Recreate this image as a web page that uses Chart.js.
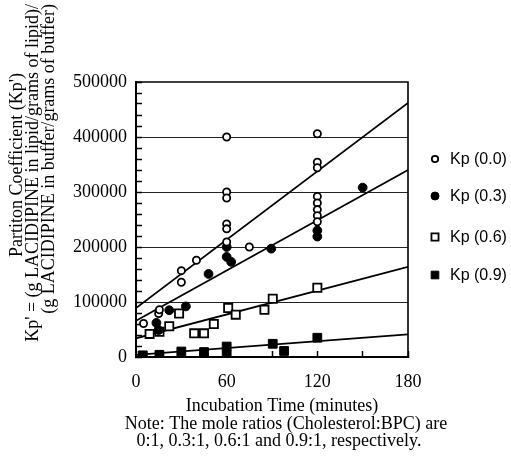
<!DOCTYPE html>
<html>
<head>
<meta charset="utf-8">
<script src="https://cdn.jsdelivr.net/npm/chart.js@4/dist/chart.umd.min.js"></script>
<style>
  html, body { margin: 0; padding: 0; background: #ffffff; }
  #wrap { width: 511px; height: 463px; }
</style>
</head>
<body>
<div id="wrap"><canvas id="c" width="511" height="463"></canvas></div>
<script>
// Series labels (cholesterol:BPC mole ratio)
const seriesNames = ['Kp (0.0)', 'Kp (0.3)', 'Kp (0.6)', 'Kp (0.9)'];

// Kp (0.0) measurements
const kp00Time  = [5, 15, 15.5, 30, 30, 40, 60, 60, 60, 60, 60, 60, 75, 120, 120, 120, 120, 120, 120, 120, 120];
const kp00Value = [61000, 79000, 86000, 157000, 136000, 176000, 400000, 300000, 289000, 242000, 233000, 209000, 200000, 406000, 354000, 344000, 292000, 280000, 268000, 257000, 246000];

// Kp (0.3) measurements
const kp03Time  = [13.5, 15, 22, 33, 48, 60, 60, 63, 89.5, 120, 120, 150];
const kp03Value = [62000, 49000, 85000, 92000, 151000, 200000, 182000, 173000, 197000, 230000, 219000, 308000];

// Kp (0.6) measurements
const kp06Time  = [9, 15.5, 22, 28.5, 38.5, 45, 51.5, 61, 66, 85, 90.5, 120];
const kp06Value = [42000, 46000, 56000, 79000, 43000, 43000, 60000, 89000, 77000, 86000, 106000, 126000];

// Kp (0.9) measurements
const kp09Time  = [4.5, 15.5, 30, 45, 60, 60, 90.5, 98, 120];
const kp09Value = [3000, 4000, 10000, 9000, 19000, 4000, 24000, 11000, 35000];

// Linear fits, evaluated at the ends of the time axis
const fitTime  = [0, 180];
const fit00    = [89000, 462000];
const fit03    = [66000, 340000];
const fit06    = [34000, 164000];
const fit09    = [4000, 41000];

// Axis ticks
const xTickLabels = [0, 60, 120, 180];
const yTickLabels = [0, 100000, 200000, 300000, 400000, 500000];

// Axis captions
const yTitleLines = [
  "Partiton Coefficient (Kp')",
  "Kp' = (g LACIDIPINE in lipid/grams of lipid)/",
  "(g LACIDIPINE in buffer/grams of buffer)"
];
const xTitleLines = [
  "Incubation Time (minutes)",
  "Note: The mole ratios (Cholesterol:BPC) are",
  "0:1, 0.3:1, 0.6:1 and 0.9:1, respectively."
];

const SERIF = "'Liberation Serif', 'Times New Roman', serif";
const SANS = "'Liberation Sans', Arial, sans-serif";

function pts(xs, ys) { return xs.map((x, i) => ({ x: x, y: ys[i] })); }

const markerStyles = [
  { pointStyle: 'circle', radius: 3.6, fill: '#ffffff', border: 1.8 },
  { pointStyle: 'circle', radius: 4.4, fill: '#000000', border: 1 },
  { pointStyle: 'rect',   radius: 5.8, fill: '#ffffff', border: 1.8 },
  { pointStyle: 'rect',   radius: 6.2, fill: '#000000', border: 1 }
];

function pointSet(label, xs, ys, st) {
  return {
    label: label,
    data: pts(xs, ys),
    showLine: false,
    pointStyle: st.pointStyle,
    pointRadius: st.radius,
    pointHoverRadius: st.radius,
    pointBackgroundColor: st.fill,
    pointBorderColor: '#000000',
    pointBorderWidth: st.border,
    order: 0
  };
}
function fitSet(ys) {
  return {
    label: '',
    data: pts(fitTime, ys),
    showLine: true,
    borderColor: '#000000',
    borderWidth: 1.8,
    pointRadius: 0,
    pointHoverRadius: 0,
    fill: false,
    order: 1
  };
}

// Frame, legend and axis captions
const decorations = {
  id: 'decorations',
  afterDraw(chart) {
    const ctx = chart.ctx;
    const a = chart.chartArea;
    ctx.save();
    // top and right frame lines
    ctx.strokeStyle = '#000';
    ctx.lineWidth = 1.6;
    ctx.beginPath();
    ctx.moveTo(a.left, a.top);
    ctx.lineTo(a.right, a.top);
    ctx.lineTo(a.right, a.bottom);
    ctx.stroke();

    // legend
    const rows = [159, 196, 237, 275];
    ctx.font = '16px ' + SANS;
    ctx.textAlign = 'left';
    ctx.textBaseline = 'middle';
    for (let i = 0; i < 4; i++) {
      const st = markerStyles[i];
      ctx.fillStyle = st.fill;
      ctx.strokeStyle = '#000';
      ctx.lineWidth = st.border;
      Chart.helpers.drawPoint(ctx, {
        pointStyle: st.pointStyle,
        radius: st.pointStyle === 'circle' ? st.radius - 0.4 : st.radius - 0.8,
        rotation: 0,
        borderWidth: st.border
      }, 435, rows[i]);
      ctx.fillStyle = '#000';
      ctx.fillText(seriesNames[i], 450, rows[i] + 1);
    }

    // y caption (rotated)
    ctx.font = '18px ' + SERIF;
    ctx.fillStyle = '#000';
    ctx.textBaseline = 'middle';
    ctx.save();
    ctx.translate(17, 165);
    ctx.rotate(-Math.PI / 2);
    ctx.textAlign = 'center';
    ctx.fillText(yTitleLines[0], 0, 0);
    ctx.restore();
    ctx.save();
    ctx.translate(33, 4);
    ctx.rotate(-Math.PI / 2);
    ctx.textAlign = 'right';
    ctx.fillText(yTitleLines[1], 0, 0);
    ctx.restore();
    ctx.save();
    ctx.translate(49, 4);
    ctx.rotate(-Math.PI / 2);
    ctx.textAlign = 'right';
    ctx.fillText(yTitleLines[2], 0, 0);
    ctx.restore();

    // x caption
    ctx.textAlign = 'center';
    ctx.fillText(xTitleLines[0], 282, 406);
    ctx.fillText(xTitleLines[1], 286, 424);
    ctx.fillText(xTitleLines[2], 279, 441);
    ctx.restore();
  }
};

new Chart(document.getElementById('c'), {
  type: 'scatter',
  data: {
    datasets: [
      fitSet(fit00), fitSet(fit03), fitSet(fit06), fitSet(fit09),
      pointSet(seriesNames[0], kp00Time, kp00Value, markerStyles[0]),
      pointSet(seriesNames[1], kp03Time, kp03Value, markerStyles[1]),
      pointSet(seriesNames[2], kp06Time, kp06Value, markerStyles[2]),
      pointSet(seriesNames[3], kp09Time, kp09Value, markerStyles[3])
    ]
  },
  options: {
    responsive: false,
    devicePixelRatio: 1,
    animation: false,
    events: [],
    layout: { padding: { top: 82, right: 103, left: 0, bottom: 0 } },
    plugins: { legend: { display: false }, tooltip: { enabled: false } },
    scales: {
      x: {
        type: 'linear',
        min: 0, max: 180,
        afterFit(s) { s.height = 106; },
        ticks: {
          stepSize: 30,
          autoSkip: false,
          maxRotation: 0,
          padding: 20,
          color: '#000',
          font: { family: SERIF, size: 18 },
          callback: v => (xTickLabels.includes(v) ? String(v) : '')
        },
        grid: { drawOnChartArea: false, tickLength: -6, tickColor: '#000', tickWidth: 1.5 },
        border: { color: '#000', width: 2 }
      },
      y: {
        min: 0, max: 500000,
        afterFit(s) { s.width = 136; },
        ticks: {
          stepSize: 20000,
          autoSkip: false,
          padding: 15,
          color: '#000',
          font: { family: SERIF, size: 18 },
          callback: v => (yTickLabels.includes(v) ? String(v) : '')
        },
        grid: {
          color: c => (c.tick && c.tick.value > 0 && c.tick.value < 500000 && c.tick.value % 100000 === 0) ? '#222' : 'rgba(0,0,0,0)',
          lineWidth: 1,
          borderDash: [1, 2],
          tickLength: -6,
          tickColor: '#000',
          tickWidth: 1.5
        },
        border: { color: '#000', width: 2 }
      }
    }
  },
  plugins: [decorations]
});
</script>
</body>
</html>
